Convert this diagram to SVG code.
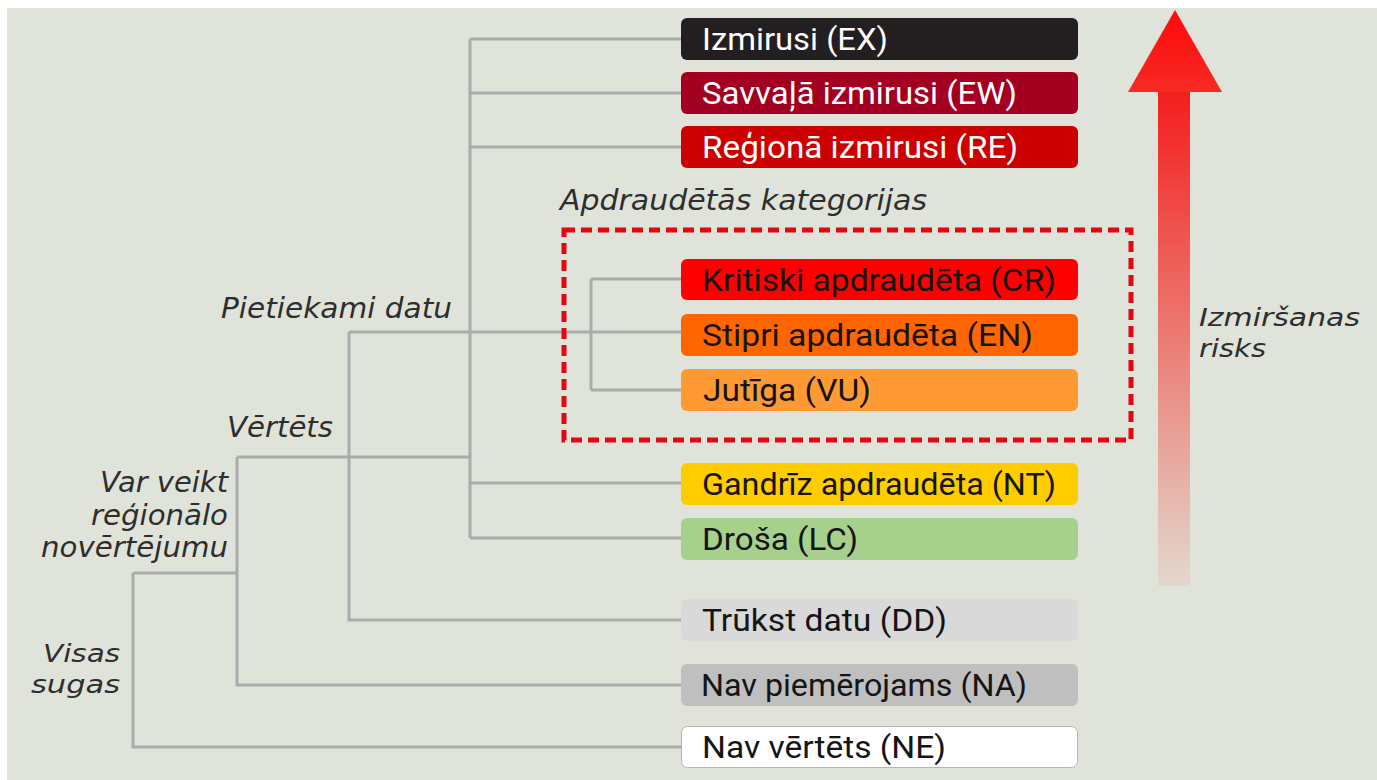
<svg xmlns="http://www.w3.org/2000/svg" width="1377" height="780" viewBox="0 0 1377 780">
<style>
.box{stroke:none}
.bt{font-family:Roboto,"Liberation Sans",sans-serif;font-size:31px;fill:#151515}
.wt{fill:#ffffff}
.lab{font-family:"DejaVu Sans","Noto Sans",sans-serif;font-style:italic;font-size:29px;fill:#2e2e2e}
.sm{font-size:25px}
.con{stroke:#a9abad;stroke-width:3;fill:none}
</style>
<defs>
<linearGradient id="shaft" x1="0" y1="0" x2="0" y2="1">
<stop offset="0" stop-color="#f41d1d"/>
<stop offset="0.5" stop-color="#ec7b73"/>
<stop offset="1" stop-color="#e3d8cd"/>
</linearGradient>
<linearGradient id="head" x1="0" y1="0" x2="0" y2="1">
<stop offset="0" stop-color="#ff0a0a"/>
<stop offset="1" stop-color="#f72a24"/>
</linearGradient>
</defs>
<rect x="0" y="0" width="1377" height="780" fill="#ffffff"/>
<rect x="7" y="8" width="1370" height="772" fill="#e0e3d9"/>

<g id="connectors">
<path class="con" d="M470 39 V538 M470 39 H682 M470 93 H682 M470 147 H682 M470 483 H682 M470 538 H682"/>
<path class="con" d="M349 332 H682 M591 279 V390 M591 279 H682 M591 390 H682"/>
<path class="con" d="M349 332 V620 H682 M237 457 H470 M237 457 V685 H682 M133 573 H237 M133 573 V747 H682"/>
</g>

<g id="risk-arrow">
<rect x="1158" y="90" width="32" height="496" fill="url(#shaft)"/>
<polygon points="1175,10 1222,92 1128,92" fill="url(#head)"/>
</g>

<g id="threatened-group">
<rect x="564" y="230" width="567" height="210" fill="none" stroke="#e30613" stroke-width="5" stroke-dasharray="11 6"/>
<text class="lab" x="560" y="210" textLength="367" lengthAdjust="spacingAndGlyphs">Apdraudētās kategorijas</text>
</g>

<g id="EX"><rect class="box" x="681" y="18" width="397" height="42" rx="6" fill="#231f20"/><text class="bt wt" x="702" y="50" textLength="186" lengthAdjust="spacingAndGlyphs">Izmirusi (EX)</text></g>
<g id="EW"><rect class="box" x="681" y="72" width="397" height="42" rx="6" fill="#a30021"/><text class="bt wt" x="702" y="104" textLength="315" lengthAdjust="spacingAndGlyphs">Savvaļā izmirusi (EW)</text></g>
<g id="RE"><rect class="box" x="681" y="126" width="397" height="42" rx="6" fill="#cc0000"/><text class="bt wt" x="702" y="158" textLength="316" lengthAdjust="spacingAndGlyphs">Reģionā izmirusi (RE)</text></g>
<g id="CR"><rect class="box" x="681" y="259" width="397" height="41" rx="6" fill="#ff0000"/><text class="bt" x="702" y="291" textLength="354" lengthAdjust="spacingAndGlyphs">Kritiski apdraudēta (CR)</text></g>
<g id="EN"><rect class="box" x="681" y="314" width="397" height="42" rx="6" fill="#ff6600"/><text class="bt" x="702" y="346" textLength="331" lengthAdjust="spacingAndGlyphs">Stipri apdraudēta (EN)</text></g>
<g id="VU"><rect class="box" x="681" y="369" width="397" height="42" rx="6" fill="#ff9933"/><text class="bt" x="703" y="401" textLength="168" lengthAdjust="spacingAndGlyphs">Jutīga (VU)</text></g>
<g id="NT"><rect class="box" x="681" y="463" width="397" height="42" rx="6" fill="#ffcc00"/><text class="bt" x="702" y="495" textLength="354" lengthAdjust="spacingAndGlyphs">Gandrīz apdraudēta (NT)</text></g>
<g id="LC"><rect class="box" x="681" y="518" width="397" height="42" rx="6" fill="#a8d08d"/><text class="bt" x="702" y="550" textLength="156" lengthAdjust="spacingAndGlyphs">Droša (LC)</text></g>
<g id="DD"><rect class="box" x="681" y="599" width="397" height="42" rx="6" fill="#d9d9d9"/><text class="bt" x="702" y="631" textLength="245" lengthAdjust="spacingAndGlyphs">Trūkst datu (DD)</text></g>
<g id="NA"><rect class="box" x="681" y="664" width="397" height="42" rx="6" fill="#bfbfbf"/><text class="bt" x="701" y="696" textLength="326" lengthAdjust="spacingAndGlyphs">Nav piemērojams (NA)</text></g>
<g id="NE"><rect x="681.5" y="726.5" width="396" height="41" rx="6" fill="#ffffff" stroke="#b5b5b5" stroke-width="1"/><text class="bt" x="702" y="758" textLength="244" lengthAdjust="spacingAndGlyphs">Nav vērtēts (NE)</text></g>

<g id="labels">
<text class="lab" x="452" y="318" text-anchor="end" textLength="231" lengthAdjust="spacingAndGlyphs">Pietiekami datu</text>
<text class="lab" x="333" y="437" text-anchor="end" textLength="106" lengthAdjust="spacingAndGlyphs">Vērtēts</text>
<text class="lab" x="228" y="492" text-anchor="end" textLength="128" lengthAdjust="spacingAndGlyphs">Var veikt</text>
<text class="lab" x="228" y="525" text-anchor="end" textLength="137" lengthAdjust="spacingAndGlyphs">reģionālo</text>
<text class="lab" x="228" y="557" text-anchor="end" textLength="187" lengthAdjust="spacingAndGlyphs">novērtējumu</text>
<text class="lab sm" x="120" y="662" text-anchor="end" textLength="77" lengthAdjust="spacingAndGlyphs">Visas</text>
<text class="lab sm" x="120" y="693" text-anchor="end" textLength="89" lengthAdjust="spacingAndGlyphs">sugas</text>
<text class="lab sm" x="1199" y="326" textLength="161" lengthAdjust="spacingAndGlyphs">Izmiršanas</text>
<text class="lab sm" x="1199" y="357" textLength="67" lengthAdjust="spacingAndGlyphs">risks</text>
</g>
</svg>
